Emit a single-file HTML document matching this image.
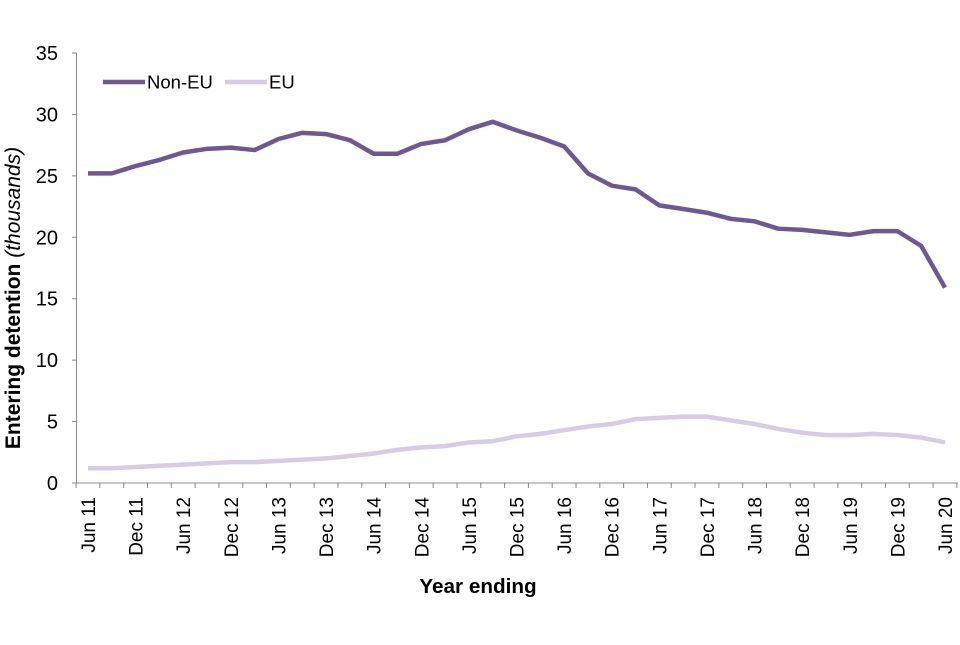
<!DOCTYPE html>
<html><head><meta charset="utf-8"><style>
body{margin:0;background:#fff}
svg text{font-family:"Liberation Sans",Arial,sans-serif;fill:#000}
</style></head><body>
<svg id="chart" width="960" height="640">
<g id="axes"></g><g id="series"></g>
<g>
<line x1="103" y1="82" x2="145" y2="82" stroke="#6f5891" stroke-width="4.5"/>
<text x="147" y="88.5" font-size="18.5">Non-EU</text>
<line x1="225" y1="82" x2="267" y2="82" stroke="#d6cce4" stroke-width="4.5"/>
<text x="269" y="88.5" font-size="18.5">EU</text>
</g>
<text x="0" y="0" transform="translate(20,298) rotate(-90)" text-anchor="middle" font-size="21" font-weight="bold">Entering detention <tspan font-weight="normal" font-style="italic">(thousands)</tspan></text>
<text x="478" y="593" text-anchor="middle" font-size="20.7" font-weight="bold">Year ending</text>
</svg>
<script>
const categories=["Jun 11","Sep 11","Dec 11","Mar 12","Jun 12","Sep 12","Dec 12","Mar 13","Jun 13","Sep 13","Dec 13","Mar 14","Jun 14","Sep 14","Dec 14","Mar 15","Jun 15","Sep 15","Dec 15","Mar 16","Jun 16","Sep 16","Dec 16","Mar 17","Jun 17","Sep 17","Dec 17","Mar 18","Jun 18","Sep 18","Dec 18","Mar 19","Jun 19","Sep 19","Dec 19","Mar 20","Jun 20"];
const nonEU=[25.2,25.2,25.8,26.3,26.9,27.2,27.3,27.1,28.0,28.5,28.4,27.9,26.8,26.8,27.6,27.9,28.8,29.4,28.7,28.1,27.4,25.2,24.2,23.9,22.6,22.3,22.0,21.5,21.3,20.7,20.6,20.4,20.2,20.5,20.5,19.3,15.9];
const eu=[1.2,1.2,1.3,1.4,1.5,1.6,1.7,1.7,1.8,1.9,2.0,2.2,2.4,2.7,2.9,3.0,3.3,3.4,3.8,4.0,4.3,4.6,4.8,5.2,5.3,5.4,5.4,5.1,4.8,4.4,4.1,3.9,3.9,4.0,3.9,3.7,3.3];
const yTicks=[0,5,10,15,20,25,30,35];
const NS="http://www.w3.org/2000/svg";
const x0=88,x1=945,yb=483,yt=53,yMax=35,axX=76.5;
function xs(i){return x0+i*(x1-x0)/(categories.length-1);}
function ys(v){return yb-(v/yMax)*(yb-yt);}
function mk(t,a,p){const e=document.createElementNS(NS,t);for(const k in a)e.setAttribute(k,a[k]);p.appendChild(e);return e;}
const ax=document.getElementById('axes');
let yl=mk('line',{x1:axX,y1:yt,x2:axX,y2:yb,stroke:'#888','stroke-width':1},ax);


let xl=mk('line',{x1:axX,y1:yb,x2:958,y2:yb,stroke:'#888','stroke-width':1},ax);


yTicks.forEach(v=>{
 const tk=mk('line',{x1:72,y1:ys(v),x2:axX,y2:ys(v),stroke:'#888'},ax);
 
 
 const t=mk('text',{x:58,y:ys(v)+7,'text-anchor':'end','font-size':20},ax);
 t.textContent=v;
 
 
});
const step=(x1-x0)/(categories.length-1);
for(let i=0;i<=categories.length;i++){
 const tk=mk('line',{x1:x0+(i-0.5)*step,y1:yb,x2:x0+(i-0.5)*step,y2:yb+5,stroke:'#888'},ax);
 
 
}
categories.forEach((c,i)=>{
 if(i%2)return;
 const t=mk('text',{x:0,y:0,'text-anchor':'end','font-size':19,transform:`translate(${xs(i)+7},${yb+14}) rotate(-90)`},ax);
 t.textContent=c;
 
 
});
const sg=document.getElementById('series');
function line(vals,col,name){
 const p=mk('polyline',{points:vals.map((v,i)=>xs(i)+','+ys(v)).join(' '),fill:'none',stroke:col,'stroke-width':4.5,'stroke-linejoin':'round'},sg);
 
 
}
line(eu,'#d6cce4','eu-line');
line(nonEU,'#6f5891','non-eu-line');
</script>
</body></html>
